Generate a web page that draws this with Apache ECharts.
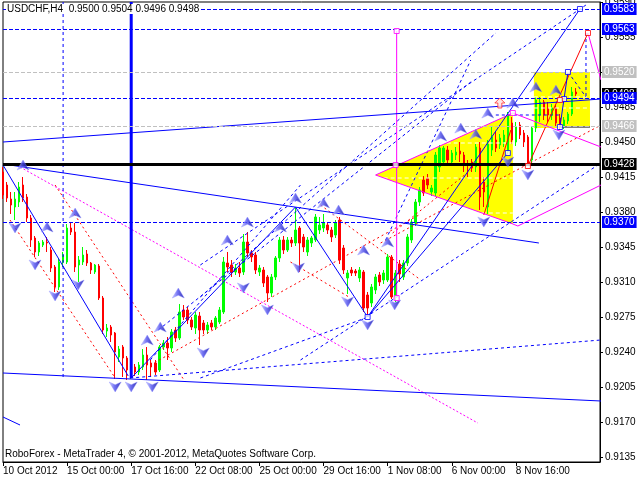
<!DOCTYPE html>
<html><head><meta charset="utf-8">
<script src="https://cdn.jsdelivr.net/npm/echarts@6/dist/echarts.min.js"></script>
<style>html,body{margin:0;padding:0;background:#fff}#c{width:640px;height:480px}</style>
</head><body><div id="c"></div>
<script>
// ---------- DATA ----------
const tradingDays = ['10 Oct','11 Oct','12 Oct','15 Oct','16 Oct','17 Oct','18 Oct','19 Oct','22 Oct','23 Oct','24 Oct','25 Oct','26 Oct','29 Oct','30 Oct','31 Oct','1 Nov','2 Nov','5 Nov','6 Nov','7 Nov','8 Nov','9 Nov','12 Nov','13 Nov','14 Nov'];
const barHours = ['00:00','04:00','08:00','12:00','16:00','20:00'];
const xTickLabels = ['10 Oct 2012','15 Oct 00:00','17 Oct 16:00','22 Oct 08:00','25 Oct 00:00','29 Oct 16:00','1 Nov 08:00','6 Nov 00:00','8 Nov 16:00'];
const xTickStep = 16;
const yTicks = [0.9135,0.9170,0.9205,0.9240,0.9275,0.9310,0.9345,0.9380,0.9415,0.9450,0.9485,0.9520,0.9555,0.9590];
const barCount = 150;

// candles: [open, close, low, high]
const candles = [
[0.9420,0.9397,0.9393,0.9425],[0.9407,0.9394,0.9390,0.9410],[0.9393,0.9387,0.9378,0.9400],[0.9385,0.9393,0.9372,0.9400],
[0.9390,0.9405,0.9385,0.9410],[0.9407,0.9394,0.9390,0.9415],[0.9395,0.9374,0.9370,0.9398],[0.9374,0.9352,0.9345,0.9377],
[0.9354,0.9340,0.9335,0.9356],[0.9340,0.9349,0.9336,0.9351],[0.9347,0.9350,0.9345,0.9352],[0.9350,0.9349,0.9340,0.9355],
[0.9342,0.9324,0.9320,0.9345],[0.9325,0.9305,0.9300,0.9327],[0.9305,0.9330,0.9302,0.9333],[0.9330,0.9337,0.9325,0.9340],
[0.9330,0.9364,0.9328,0.9368],[0.9364,0.9360,0.9357,0.9369],[0.9360,0.9325,0.9320,0.9369],[0.9327,0.9332,0.9310,0.9336],
[0.9330,0.9337,0.9327,0.9345],[0.9338,0.9329,0.9326,0.9342],[0.9329,0.9322,0.9318,0.9330],[0.9320,0.9327,0.9318,0.9328],
[0.9326,0.9294,0.9292,0.9328],[0.9294,0.9262,0.9258,0.9296],[0.9261,0.9264,0.9255,0.9268],[0.9265,0.9257,0.9250,0.9267],
[0.9259,0.9240,0.9213,0.9260],[0.9235,0.9243,0.9230,0.9246],[0.9245,0.9234,0.9215,0.9247],[0.9234,0.9222,0.9212,0.9236],
[0.9217,0.9225,0.9213,0.9228],[0.9225,0.9220,0.9216,0.9228],[0.9220,0.9227,0.9217,0.9230],[0.9225,0.9237,0.9222,0.9243],
[0.9237,0.9227,0.9212,0.9245],[0.9229,0.9225,0.9215,0.9232],[0.9229,0.9220,0.9217,0.9232],[0.9222,0.9245,0.9220,0.9247],
[0.9245,0.9249,0.9242,0.9252],[0.9249,0.9244,0.9232,0.9255],[0.9244,0.9260,0.9240,0.9263],[0.9262,0.9254,0.9250,0.9265],
[0.9254,0.9280,0.9252,0.9288],[0.9282,0.9275,0.9272,0.9287],[0.9282,0.9272,0.9268,0.9285],[0.9272,0.9265,0.9262,0.9275],
[0.9264,0.9277,0.9258,0.9280],[0.9276,0.9262,0.9247,0.9280],[0.9269,0.9262,0.9258,0.9272],[0.9262,0.9267,0.9258,0.9270],
[0.9269,0.9265,0.9262,0.9272],[0.9265,0.9274,0.9262,0.9276],[0.9270,0.9282,0.9268,0.9285],[0.9280,0.9330,0.9278,0.9335],
[0.9329,0.9325,0.9320,0.9340],[0.9327,0.9320,0.9315,0.9332],[0.9320,0.9324,0.9317,0.9328],[0.9324,0.9319,0.9315,0.9330],
[0.9320,0.9350,0.9317,0.9358],[0.9350,0.9339,0.9335,0.9360],[0.9339,0.9335,0.9330,0.9342],[0.9337,0.9322,0.9318,0.9340],
[0.9320,0.9324,0.9316,0.9327],[0.9322,0.9309,0.9305,0.9325],[0.9315,0.9299,0.9290,0.9317],[0.9299,0.9315,0.9295,0.9318],
[0.9315,0.9334,0.9312,0.9336],[0.9334,0.9352,0.9330,0.9355],[0.9352,0.9342,0.9338,0.9356],[0.9342,0.9352,0.9340,0.9355],
[0.9352,0.9349,0.9345,0.9355],[0.9349,0.9362,0.9346,0.9384],[0.9364,0.9349,0.9320,0.9366],[0.9355,0.9345,0.9340,0.9358],
[0.9340,0.9352,0.9336,0.9355],[0.9349,0.9354,0.9345,0.9356],[0.9352,0.9375,0.9350,0.9378],[0.9362,0.9367,0.9358,0.9375],
[0.9364,0.9369,0.9360,0.9378],[0.9367,0.9362,0.9358,0.9370],[0.9362,0.9355,0.9350,0.9365],[0.9357,0.9369,0.9354,0.9372],
[0.9372,0.9332,0.9328,0.9375],[0.9344,0.9322,0.9318,0.9347],[0.9314,0.9319,0.9298,0.9322],[0.9322,0.9319,0.9316,0.9325],
[0.9321,0.9319,0.9316,0.9323],[0.9314,0.9322,0.9310,0.9325],[0.9320,0.9284,0.9280,0.9322],[0.9297,0.9284,0.9275,0.9300],
[0.9289,0.9305,0.9285,0.9308],[0.9302,0.9315,0.9298,0.9318],[0.9317,0.9310,0.9306,0.9320],[0.9312,0.9319,0.9308,0.9322],
[0.9312,0.9335,0.9310,0.9338],[0.9335,0.9295,0.9293,0.9337],[0.9295,0.9319,0.9290,0.9322],[0.9328,0.9318,0.9310,0.9332],
[0.9315,0.9329,0.9312,0.9332],[0.9329,0.9355,0.9326,0.9358],[0.9352,0.9370,0.9349,0.9373],[0.9369,0.9390,0.9366,0.9393],
[0.9390,0.9402,0.9386,0.9405],[0.9412,0.9399,0.9396,0.9416],[0.9414,0.9407,0.9403,0.9418],[0.9400,0.9404,0.9396,0.9407],
[0.9399,0.9437,0.9396,0.9440],[0.9425,0.9444,0.9420,0.9447],[0.9430,0.9444,0.9426,0.9446],[0.9442,0.9432,0.9428,0.9446],
[0.9430,0.9439,0.9426,0.9442],[0.9437,0.9440,0.9432,0.9445],[0.9441,0.9438,0.9430,0.9450],[0.9437,0.9427,0.9420,0.9440],
[0.9428,0.9427,0.9415,0.9432],[0.9430,0.9424,0.9420,0.9433],[0.9425,0.9445,0.9420,0.9448],[0.9444,0.9395,0.9382,0.9450],
[0.9410,0.9400,0.9385,0.9415],[0.9385,0.9448,0.9378,0.9452],[0.9442,0.9455,0.9436,0.9465],[0.9452,0.9444,0.9440,0.9460],
[0.9447,0.9454,0.9443,0.9458],[0.9450,0.9457,0.9445,0.9462],[0.9440,0.9477,0.9438,0.9480],[0.9469,0.9452,0.9448,0.9475],
[0.9450,0.9465,0.9446,0.9470],[0.9467,0.9457,0.9453,0.9470],[0.9459,0.9450,0.9445,0.9462],[0.9455,0.9429,0.9426,0.9457],
[0.9432,0.9464,0.9429,0.9466],[0.9464,0.9492,0.9460,0.9495],[0.9477,0.9490,0.9470,0.9495],[0.9490,0.9477,0.9472,0.9492],
[0.9484,0.9477,0.9470,0.9490],[0.9477,0.9484,0.9472,0.9488],[0.9484,0.9469,0.9465,0.9487],[0.9474,0.9465,0.9462,0.9478],
[0.9466,0.9472,0.9463,0.9475],[0.9471,0.9478,0.9468,0.9480],[0.9478,0.9500,0.9476,0.9505],[0.9500,0.9498,0.9496,0.9504]
];

// horizontal levels
const blueLevels = [0.9583, 0.9563, 0.9494, 0.9370];
const grayLevels = [0.9520, 0.9466];
const blackLevels = [0.9428];
const bidPrice = 0.9498;

// drawn objects in (bar index, price)
const blueSolidLines = [
 [[0,0.9427],[31.25,0.9216]], [[32,0.9214],[73,0.9385]], [[73,0.9385],[91,0.9275]],
 [[91,0.9275],[126,0.9439]], [[91,0.9275],[144,0.9583]], [[139,0.9465],[141,0.9520]],
 [[0,0.9450],[149.25,0.9493]], [[0,0.9428],[133.75,0.9349]], [[0,0.9219],[149.25,0.9191]],
 [[0,0.9175],[4.25,0.9167]], [[139,0.9465],[146.5,0.9465]]
];
const blueDashedLines = [
 [[38.75,0.9262],[116.75,0.9510]], [[49.25,0.9295],[123,0.9559]], [[49.25,0.9327],[145.5,0.9587]],
 [[95.5,0.9352],[116.75,0.9532]], [[74.25,0.9232],[149.25,0.9429]], [[31.75,0.9214],[149.25,0.9252]],
 [[49.25,0.9214],[90.5,0.9274]], [[36.75,0.9232],[74.25,0.9407]], [[141,0.9520],[145.5,0.9495]],
 [[145.5,0.9559],[145.5,0.9495]], [[123,0.9477],[139.25,0.9477]], [[15,0.9590],[15,0.9212]]
];
const blueThickLines = [ [[32,0.9590],[32,0.9214]] ];
const redDottedLines = [
 [[1.75,0.9372],[28,0.9214]], [[13,0.9407],[45.5,0.9210]], [[36.75,0.9227],[104.25,0.9378]],
 [[79.25,0.9387],[104.25,0.9312]], [[71.75,0.9330],[86.75,0.9294]], [[94.25,0.9349],[149.25,0.9467]],
 [[97.25,0.9359],[116.75,0.9422]]
];
const redSolidLines = [ [[120,0.9377],[126.75,0.9462]], [[131,0.9426],[146,0.9559]] ];
const magentaSolidLines = [
 [[146,0.9559],[149.25,0.9512]], [[98.25,0.9561],[98.25,0.9294]],
 [[93,0.9417],[127.25,0.9479],[149.25,0.9445]], [[93,0.9417],[127.25,0.9368],[128.5,0.9366],[149.25,0.9407]]
];
const magentaDottedLines = [ [[4.25,0.9425],[118.5,0.9169]] ];
const whiteDashedLines = [
 [[110.75,0.9449],[127.25,0.9449]], [[95,0.9414],[127.25,0.9414]], [[119.5,0.9379],[127.25,0.9379]],
 [[132.5,0.9495],[146.5,0.9495]], [[132.5,0.9484],[146.5,0.9484]]
];
const yellowShapes = [
 [[93,0.9417],[127.25,0.9479],[127.25,0.9368]],
 [[132.5,0.9520],[146.5,0.9520],[146.5,0.9464],[132.5,0.9464]]
];
const upArrows = [[5,0.9427],[11,0.9365],[18,0.9379],[36,0.9252],[39.25,0.9265],[43.75,0.9299],[56,0.9352],[61,0.9370],[69.25,0.9365],[73,0.9394],[80,0.9389],[83.75,0.9382],[90,0.9342],[96,0.9350],[109.25,0.9456],[114.25,0.9464],[118,0.9458],[121,0.9479],[127.25,0.9489],[133,0.9505],[138,0.9502]];
const downArrows = [[3,0.9364],[8,0.9327],[13,0.9296],[18.75,0.9307],[28,0.9205],[32,0.9205],[37.25,0.9205],[50,0.9239],[60,0.9304],[66,0.9282],[73.75,0.9324],[86,0.9290],[91,0.9267],[97.75,0.9287],[120,0.9370],[126,0.9430],[131,0.9417],[138.75,0.9457]];
const redUpArrows = [[124,0.9489]];
const blueSquares = [[91,0.9275],[126,0.9439],[139,0.9465],[140,0.9493],[141,0.9520],[144,0.9583]];
const magentaSquares = [[98.25,0.9561],[98.25,0.9294],[98,0.9427],[127.25,0.9479]];
const redSquares = [[131,0.9426],[146,0.9559],[139,0.9492]];

// ---------- BUILD ----------
const categories = [];
for (let d = 0; d < tradingDays.length && categories.length < barCount; d++) {
  for (let h = 0; h < barHours.length && categories.length < barCount; h++) {
    if (d === 0 && h < 2) continue;
    categories.push(tradingDays[d] + ' ' + barHours[h]);
  }
}
const FONT = '"Liberation Sans", Arial, sans-serif';
const showTick = (i) => i % xTickStep === 0 && i / xTickStep < xTickLabels.length;

function segSeries(list, style, z) {
  return list.map(pts => ({
    type: 'line', xAxisIndex: 1, yAxisIndex: 0, data: pts, symbol: 'none',
    silent: true, animation: false, z: z, lineStyle: style
  }));
}
function levelLine(levels, lineStyle, labelBg, z) {
  return {
    type: 'line', xAxisIndex: 1, yAxisIndex: 0, data: [], silent: true, animation: false, z: z, clip: false,
    markLine: {
      silent: true, animation: false, symbol: ['none','none'], precision: 4,
      lineStyle: lineStyle,
      label: {
        show: true, position: 'end', distance: 2,
        formatter: (p) => Number(p.value).toFixed(4),
        color: '#fff', backgroundColor: labelBg, padding: [1,2,0,2],
        fontSize: 10, lineHeight: 11, fontFamily: FONT
      },
      data: levels.map(v => ({ yAxis: v }))
    }
  };
}
const arrowGrad = new echarts.graphic.LinearGradient(0,0,1,0,[
  {offset:0,color:'#c8c8ff'},{offset:0.45,color:'#5050f0'},{offset:1,color:'#0000a0'}]);

const series = [];
series.push({
  type: 'custom', xAxisIndex: 1, yAxisIndex: 0, silent: true, animation: false, z: 1,
  data: yellowShapes.map((s, i) => [i]),
  renderItem: (params, api) => ({
    type: 'polygon',
    shape: { points: yellowShapes[params.dataIndex].map(p => api.coord(p)) },
    style: { fill: '#ffff00' }
  })
});
series.push({
  type: 'candlestick', xAxisIndex: 0, yAxisIndex: 0, data: candles, barWidth: 2,
  silent: true, animation: false, z: 2,
  itemStyle: { color: '#00ff00', color0: '#ff0000', borderColor: '#00ff00', borderColor0: '#ff0000', borderColorDoji: '#000', borderWidth: 1 }
});
series.push(...segSeries(whiteDashedLines, {color:'#ffffff', width:1, type:[4,3]}, 3));
series.push(...segSeries(redDottedLines, {color:'#ff0000', width:1, type:[2,3]}, 3));
series.push(...segSeries(magentaDottedLines, {color:'#ff00ff', width:1, type:[2,2]}, 3));
series.push(...segSeries(blueDashedLines, {color:'#0000ff', width:1, type:[3,3]}, 3));
series.push(...segSeries(redSolidLines, {color:'#ff0000', width:1}, 3));
series.push(...segSeries(magentaSolidLines, {color:'#ff00ff', width:1}, 3));
series.push(...segSeries(blueSolidLines, {color:'#0000ff', width:1}, 3));
series.push(...segSeries(blueThickLines, {color:'#0000ff', width:3}, 3));
series.push(levelLine(grayLevels, {color:'#c0c0c0', width:1, type:[4,2]}, '#c0c0c0', 3));
series.push(levelLine([bidPrice], {color:'rgba(0,0,0,0)', width:1}, '#000000', 4));
series.push(levelLine(blackLevels, {color:'#000000', width:3, type:'solid'}, '#000000', 4));
series.push(levelLine(blueLevels, {color:'#0000ff', width:1, type:[4,2]}, '#0000ff', 5));
series.push({
  type: 'scatter', xAxisIndex: 1, yAxisIndex: 0, data: upArrows, silent: true, animation: false, z: 6,
  symbol: 'path://M6,0 L12,11 L6,8 L0,11 Z', symbolSize: [12,10],
  itemStyle: { color: arrowGrad, borderColor: '#9090ff', borderWidth: 0.5 }
});
series.push({
  type: 'scatter', xAxisIndex: 1, yAxisIndex: 0, data: downArrows, silent: true, animation: false, z: 6,
  symbol: 'path://M0,0 L6,3 L12,0 L6,11 Z', symbolSize: [12,10],
  itemStyle: { color: arrowGrad, borderColor: '#9090ff', borderWidth: 0.5 }
});
series.push({
  type: 'scatter', xAxisIndex: 1, yAxisIndex: 0, data: redUpArrows, silent: true, animation: false, z: 6,
  symbol: 'path://M5,0 L10,5 L7,5 L7,10 L3,10 L3,5 L0,5 Z', symbolSize: [10,10],
  itemStyle: { color: '#ffe0e0', borderColor: '#ff3030', borderWidth: 1 }
});
[[blueSquares,'#0000ff'],[magentaSquares,'#ff00ff'],[redSquares,'#ff0000']].forEach(([d,c]) => series.push({
  type: 'scatter', xAxisIndex: 1, yAxisIndex: 0, data: d, silent: true, animation: false, z: 7,
  symbol: 'rect', symbolSize: 5, itemStyle: { color: '#ffffff', borderColor: c, borderWidth: 1 }
}));

const chart = echarts.init(document.getElementById('c'), null, { renderer: 'canvas' });
chart.setOption({
  animation: false,
  backgroundColor: '#ffffff',
  grid: { left: 3, right: 40, top: 2, bottom: 18, show: true, borderColor: '#000', borderWidth: 1, containLabel: false, outerBoundsMode: 'none' },
  xAxis: [{
    type: 'category', data: categories, boundaryGap: false,
    axisLine: { show: true, lineStyle: { color: '#000', width: 1 } },
    axisTick: { show: true, interval: showTick, length: 4, lineStyle: { color: '#000' } },
    axisLabel: { show: true, interval: showTick, formatter: (v, i) => xTickLabels[i / xTickStep], align: 'left', margin: 4,
                 color: '#000', fontSize: 10, fontFamily: FONT, hideOverlap: false },
    splitLine: { show: false }
  }, {
    type: 'value', min: 0, max: barCount - 1, show: false, splitLine: { show: false }
  }],
  yAxis: [{
    type: 'value', position: 'right', min: 0.9130, max: 0.9590, scale: true,
    axisLine: { show: true, onZero: false, lineStyle: { color: '#000', width: 1 } },
    axisTick: { show: true, length: 3, customValues: yTicks, lineStyle: { color: '#000' } },
    axisLabel: { show: true, customValues: yTicks, formatter: v => v.toFixed(4), margin: 5, color: '#000', fontSize: 10, fontFamily: FONT, hideOverlap: false },
    splitLine: { show: false }
  }],
  graphic: [
    { type: 'text', left: 6, top: 4, z: 100, style: { text: 'USDCHF,H4  0.9500 0.9504 0.9496 0.9498', fill: '#000', font: '10px ' + FONT, backgroundColor: '#ffffff', padding: [0,1] } },
    { type: 'text', left: 5, top: 449, z: 100, style: { text: 'RoboForex - MetaTrader 4, © 2001-2012, MetaQuotes Software Corp.', fill: '#000', font: '10px ' + FONT } }
  ],
  series: series
});
</script>
</body></html>
